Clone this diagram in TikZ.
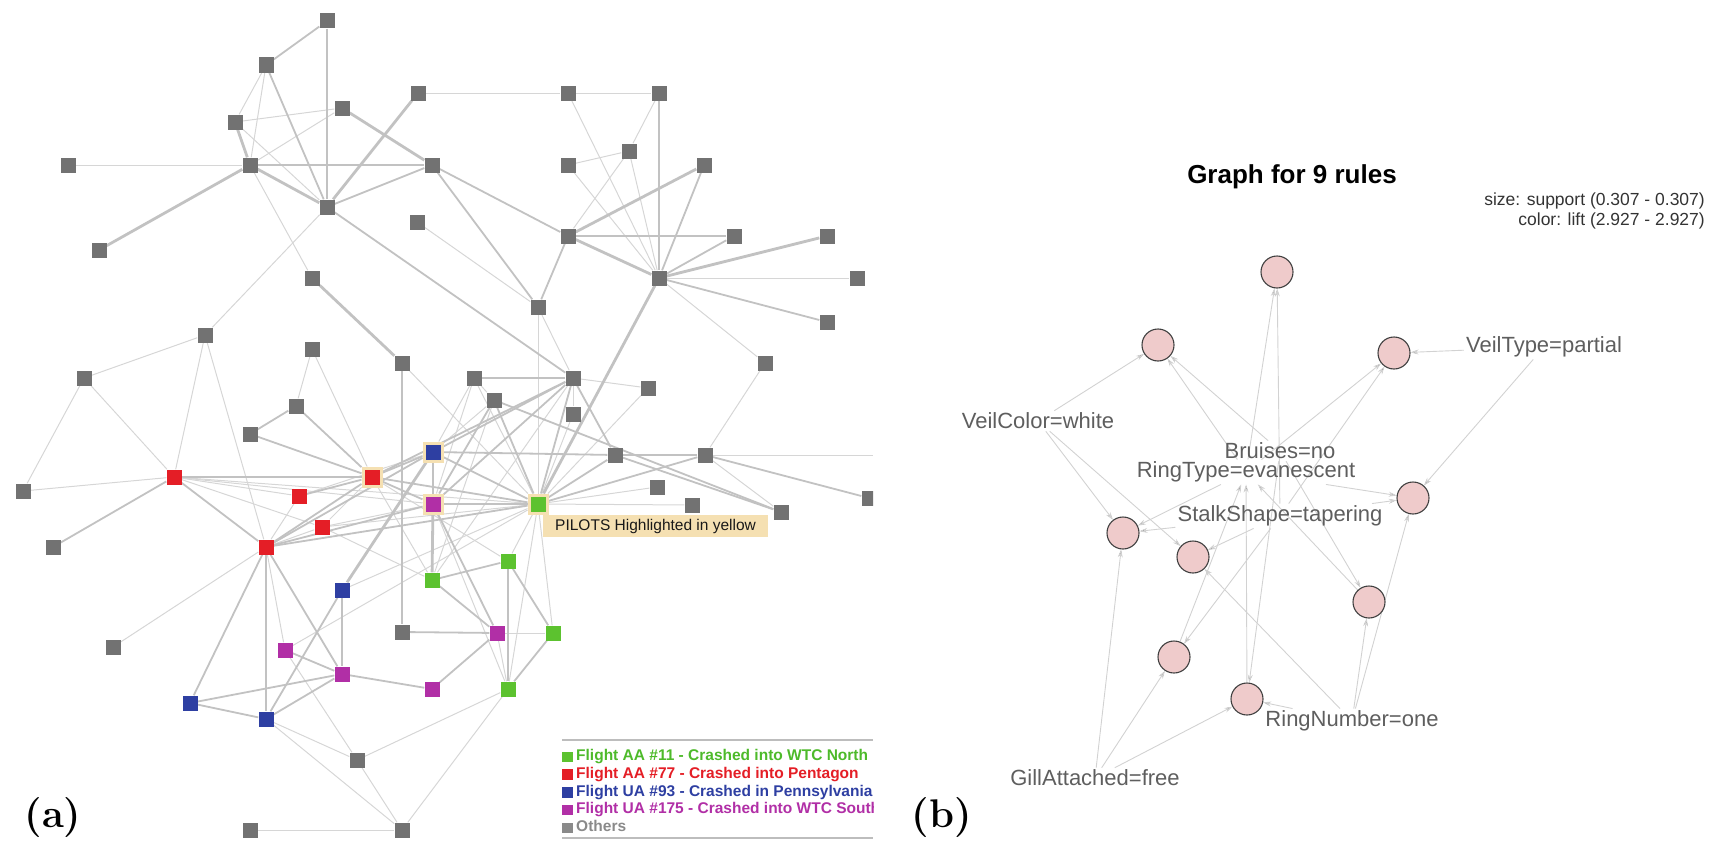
\documentclass[tikz,border=0pt]{standalone}
\usepackage{fontspec}
\newfontfamily\arial{Liberation Sans}
\usetikzlibrary{arrows.meta,positioning,backgrounds}

\definecolor{othergray}{HTML}{727272}
\definecolor{aagreen}{HTML}{5CC22F}
\definecolor{aared}{HTML}{E41E26}
\definecolor{uablue}{HTML}{2E3FA2}
\definecolor{uapurple}{HTML}{B12FA6}
\definecolor{pilottrim}{HTML}{F5E0B2}
\definecolor{tielight}{HTML}{D6D6D6}
\definecolor{tiemid}{HTML}{C2C2C2}
\definecolor{rulegray}{HTML}{BDBDBD}
\definecolor{keygreen}{HTML}{4DBA2A}
\definecolor{keygray}{HTML}{8A8A8A}
\definecolor{arcgray}{HTML}{D2D2D2}
\definecolor{rulepink}{HTML}{EFCBCB}
\definecolor{itemgray}{HTML}{5E5E5E}

\tikzset{
  actor/.style={rectangle,inner sep=0pt,minimum size=15pt},
  others/.style={actor,fill=othergray},
  aa11/.style={actor,fill=aagreen},
  aa77/.style={actor,fill=aared},
  ua93/.style={actor,fill=uablue},
  ua175/.style={actor,fill=uapurple},
  pilot/.style={minimum size=18pt,draw=pilottrim,line width=3pt},
  tie/.style={draw=tielight,line width=1pt},
  tie2/.style={draw=tiemid,line width=1.8pt},
  tie3/.style={draw=tiemid,line width=2.8pt},
  key/.style={rectangle,inner sep=0pt,minimum size=10.5pt},
  keytext/.style={font=\arial\bfseries\fontsize{15.5}{17}\selectfont,inner xsep=2pt,inner ysep=0pt,
    text height=12.5pt,text depth=4.8pt},
  rulenode/.style={circle,draw=black!75,fill=rulepink,line width=1.1pt,minimum size=32pt,inner sep=0pt},
  itemlabel/.style={font=\arial\fontsize{22}{24}\selectfont,text=itemgray,inner sep=2pt},
  legendtext/.style={font=\arial\fontsize{17.5}{20}\selectfont,text=black!80,inner xsep=0pt,inner ysep=1.25pt,
    text height=13pt,text depth=4.5pt},
  arc/.style={->,draw=arcgray,line width=0.9pt},
  panel/.style={font=\bfseries\fontsize{40}{44}\selectfont}
}

\begin{document}
\begin{tikzpicture}[x=1pt,y=-1pt,>={Stealth[length=8pt,width=5pt]}]
\useasboundingbox (0,0) rectangle (1715,859);

% (a) hijacker network
\node[others] (o1)  at (327,21)  {};
\node[others] (o2)  at (266,65)  {};
\node[others] (o3)  at (342,108) {};
\node[others] (o4)  at (235,122) {};
\node[others] (o5)  at (418,93)  {};
\node[others] (o6)  at (68,165)  {};
\node[others] (o7)  at (250,165) {};
\node[others] (o8)  at (432,165) {};
\node[others] (o9)  at (327,207) {};
\node[others] (o10) at (417,222) {};
\node[others] (o11) at (99,250)  {};
\node[others] (o12) at (312,278) {};
\node[others] (o13) at (568,93)  {};
\node[others] (o14) at (659,93)  {};
\node[others] (o15) at (568,165) {};
\node[others] (o16) at (629,151) {};
\node[others] (o17) at (704,165) {};
\node[others] (o18) at (568,236) {};
\node[others] (o19) at (734,236) {};
\node[others] (o20) at (827,236) {};
\node[others] (o21) at (659,278) {};
\node[others] (o22) at (857,278) {};
\node[others] (o23) at (538,307) {};
\node[others] (o24) at (827,322) {};
\node[others] (o25) at (765,363) {};
\node[others] (o26) at (402,363) {};
\node[others] (o27) at (474,378) {};
\node[others] (o28) at (573,378) {};
\node[others] (o29) at (648,388) {};
\node[others] (o30) at (494,400) {};
\node[others] (o31) at (573,414) {};
\node[others] (o32) at (615,455) {};
\node[others] (o33) at (705,455) {};
\node[others] (o34) at (657,487) {};
\node[others] (o35) at (692,505) {};
\node[others] (o36) at (781,512) {};
\node[others] (o38) at (402,632) {};
\node[others] (o39) at (205,335) {};
\node[others] (o40) at (312,349) {};
\node[others] (o41) at (84,378)  {};
\node[others] (o42) at (296,406) {};
\node[others] (o43) at (250,434) {};
\node[others] (o44) at (23,491)  {};
\node[others] (o45) at (53,547)  {};
\node[others] (o46) at (113,647) {};
\node[others] (o47) at (357,760) {};
\node[others] (o48) at (250,830) {};
\node[others] (o49) at (402,830) {};
\coordinate (cut) at (873,455);

\node[aa77] (r1) at (174,477) {};
\node[aa77,pilot] (r2) at (372,477) {};
\node[aa77] (r3) at (299,496) {};
\node[aa77] (r4) at (322,527) {};
\node[aa77] (r5) at (266,547) {};
\node[ua93,pilot] (b1) at (433,452) {};
\node[ua93] (b2) at (342,590) {};
\node[ua93] (b3) at (190,703) {};
\node[ua93] (b4) at (266,719) {};
\node[ua175,pilot] (p1) at (433,504) {};
\node[ua175] (p2) at (285,650) {};
\node[ua175] (p3) at (342,674) {};
\node[ua175] (p4) at (432,689) {};
\node[ua175] (p5) at (497,633) {};
\node[aa11,pilot] (g1) at (538,504) {};
\node[aa11] (g2) at (508,561) {};
\node[aa11] (g3) at (432,580) {};
\node[aa11] (g4) at (508,689) {};
\node[aa11] (g5) at (553,633) {};

\node[fill=pilottrim,font=\arial\fontsize{15.5}{17}\selectfont,text=black!90,anchor=north west,
  inner xsep=12pt,minimum height=22pt] (pilots) at (543,515) {PILOTS Highlighted in yellow};

\begin{scope}
  \clip (0,0) rectangle (873,859);
  \node[others] (o37) at (869,498) {};
  \draw[rulegray,line width=1.5pt] (562,740) -- (873,740);
  \draw[rulegray,line width=1.5pt] (562,838) -- (873,838);
  \node[keytext,text=keygreen,anchor=west] (k11) at (574,757) {Flight AA \#11 - Crashed into WTC North};
  \node[keytext,text=aared,below=0pt of k11.south west,anchor=north west] (k77) {Flight AA \#77 - Crashed into Pentagon};
  \node[keytext,text=uablue,below=0pt of k77.south west,anchor=north west] (k93) {Flight UA \#93 - Crashed in Pennsylvania};
  \node[keytext,text=uapurple,below=0pt of k93.south west,anchor=north west] (k175) {Flight UA \#175 - Crashed into WTC South};
  \node[keytext,text=keygray,below=0pt of k175.south west,anchor=north west] (kot) {Others};
  \node[key,fill=aagreen,left=1pt of k11] {};
  \node[key,fill=aared,left=1pt of k77] {};
  \node[key,fill=uablue,left=1pt of k93] {};
  \node[key,fill=uapurple,left=1pt of k175] {};
  \node[key,fill=keygray,left=1pt of kot] {};
\end{scope}

\begin{scope}[on background layer]
  \path[tie] (o2) edge (o4) edge (o7)
        (o4) edge (o3) edge (o9)
        (o3) edge (o7)
        (o5) edge (o13)
        (o6) edge (o7)
        (o7) edge (o12)
        (o9) edge (o39)
        (o10) edge (o23)
        (o13) edge (o14) edge (o21)
        (o14) edge (o16)
        (o15) edge (o16) edge (o21)
        (o16) edge (o18) edge (o21)
        (o21) edge (o22) edge (o25)
        (o23) edge (g1) edge (o28)
        (o25) edge (o33)
        (o26) edge (g1)
        (o27) edge (o30) edge (b1) edge (g1) edge (p1)
        (o28) edge (o29) edge (o31) edge (g3)
        (o30) edge (b1) edge (g3)
        (g1) edge (o29) edge (o34) edge (o35) edge (o31)
        (o33) edge (cut) edge (o36)
        (o39) edge (o41) edge (r1) edge (r5)
        (o41) edge (o44) edge (r1)
        (o40) edge (o42) edge (r2)
        (r1) edge (o44) edge (r3) edge (r4) edge (p1) edge (g1)
        (r3) edge (r5) edge (b1)
        (r4) edge (r2) edge (p1) edge (g1) edge (g3)
        (r5) edge (r4) edge (o46) edge (p2)
        (p2) edge (o47) edge (g1)
        (b4) edge (o47) edge (o49)
        (o47) edge (o49) edge (g4)
        (o48) edge (o49)
        (o49) edge (g4)
        (b2) edge (g1)
        (p5) edge (g5) edge (g4)
        (g1) edge (g2) edge (g4) edge (g5)
        (p1) edge (g4)
        (r2) edge (g3) edge (g2);
  \path[tie2] (o1) edge (o2)
        (o2) edge (o9)
        (o7) edge (o8)
        (o9) edge (o8) edge (o28)
        (o8) edge (o18) edge (o23)
        (o18) edge (o19) edge (o23)
        (o17) edge (o21)
        (o19) edge (o21)
        (o21) edge (o24)
        (o26) edge (o38)
        (o27) edge (o28)
        (o28) edge (o32) edge (b1) edge (p1) edge (g1) edge (r2)
        (o30) edge (o36) edge (g1) edge (p1)
        (b1) edge (o32) edge (p1)
        (o32) edge (o33) edge (o36)
        (o33) edge (o37)
        (g1) edge (o33) edge (o32) edge (b1) edge (p1)
        (o42) edge (o43) edge (r2)
        (o43) edge (r2)
        (r1) edge (o45) edge (r2) edge (r5)
        (r3) edge (r2)
        (r5) edge (r2) edge (b1) edge (p1) edge (g1)
        (r2) edge (b1) edge (p1) edge (g1)
        (r5) edge (b3) edge (b4) edge (p3)
        (b2) edge (p3) edge (b4)
        (p2) edge (p3)
        (p3) edge (p4) edge (b3) edge (b4)
        (b3) edge (b4)
        (o38) edge (p5)
        (g3) edge (g2) edge (p5)
        (p5) edge (p4)
        (g2) edge (g4) edge (g5)
        (g4) edge (g5)
        (p1) edge (p5);
  \path[tie3] (o1) edge (o9)
        (o4) edge (o7)
        (o3) edge (o8)
        (o5) edge (o9)
        (o7) edge (o9) edge (o11)
        (o14) edge (o21)
        (o17) edge (o18)
        (o18) edge (o21)
        (o20) edge (o21)
        (o21) edge (g1)
        (o12) edge (o26)
        (b2) edge (b1)
        (g3) edge (p1);
\end{scope}

\node[panel] (tagA) at (53,818) {(a)};

% (b) graph of 9 rules
\node[font=\arial\bfseries\fontsize{26}{30}\selectfont] (title) at (1292,177) {Graph for 9 rules};
\node[legendtext,anchor=east] (size) at (1705,201) {size: support (0.307 - 0.307)};
\node[legendtext,below=0pt of size.south east,anchor=north east] (hue) {color: lift (2.927 - 2.927)};

\node[rulenode] (c1) at (1277,272) {};
\node[rulenode] (c2) at (1158,345) {};
\node[rulenode] (c3) at (1394,353) {};
\node[rulenode] (c4) at (1123,533) {};
\node[rulenode] (c5) at (1193,557) {};
\node[rulenode] (c6) at (1174,657) {};
\node[rulenode] (c7) at (1247,699) {};
\node[rulenode] (c8) at (1413,498) {};
\node[rulenode] (c9) at (1369,602) {};

\node[itemlabel] (vc) at (1038,421) {VeilColor=white};
\node[itemlabel] (vt) at (1544,347) {VeilType=partial};
\node[itemlabel] (br) at (1280,451) {Bruises=no};
\node[itemlabel] (rt) at (1246,472) {RingType=evanescent};
\node[itemlabel] (ss) at (1280,516) {StalkShape=tapering};
\node[itemlabel] (rn) at (1352,721) {RingNumber=one};
\node[itemlabel] (ga) at (1095,778) {GillAttached=free};

\begin{scope}[on background layer]
  \path[arc] (vc) edge (c2) edge (c4) edge (c5)
        (vt) edge (c3) edge (c8)
        (ga) edge (c4) edge (c6) edge (c7)
        (rn) edge (c7) edge (c9) edge (c8) edge (c5)
        (br) edge (c2) edge (c7) edge (c9)
        (rt) edge (c1) edge (c2) edge (c3) edge (c4) edge (c8)
        (ss) edge (c1) edge (c3) edge (c4) edge (c5) edge (c6) edge (c8)
        (c6) edge (rt)
        (c7) edge (rt)
        (c9) edge (rt);
\end{scope}

\node[panel] (tagB) at (942,818) {(b)};
\end{tikzpicture}
\end{document}
